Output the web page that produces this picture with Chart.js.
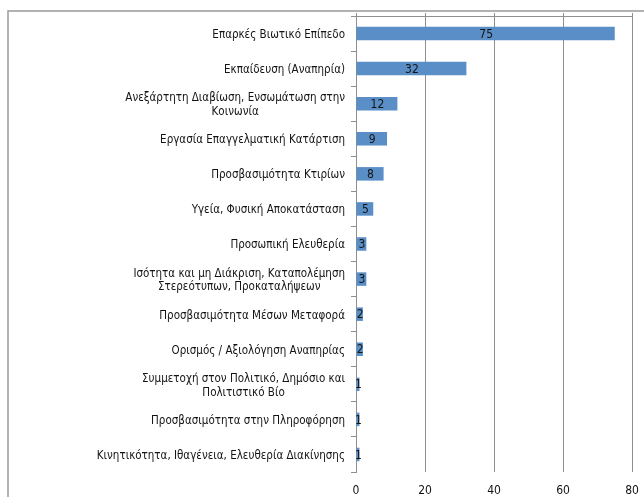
<!DOCTYPE html>
<html lang="el">
<head>
<meta charset="utf-8">
<title>Chart</title>
<script src="https://cdn.jsdelivr.net/npm/chart.js@4.4.1/dist/chart.umd.min.js"></script>
<style>
  html, body { margin: 0; padding: 0; background: #ffffff; }
  #wrap { width: 644px; height: 497px; position: relative; }
</style>
</head>
<body>
<div id="wrap"><canvas id="chart" width="644" height="497"></canvas></div>
<script>
const categories = [
  ["Επαρκές Βιωτικό Επίπεδο"],
  ["Εκπαίδευση (Αναπηρία)"],
  ["Ανεξάρτητη Διαβίωση, Ενσωμάτωση στην", "Κοινωνία"],
  ["Εργασία Επαγγελματική Κατάρτιση"],
  ["Προσβασιμότητα Κτιρίων"],
  ["Υγεία, Φυσική Αποκατάσταση"],
  ["Προσωπική Ελευθερία"],
  ["Ισότητα και μη Διάκριση, Καταπολέμηση", "Στερεότυπων, Προκαταλήψεων"],
  ["Προσβασιμότητα Μέσων Μεταφορά"],
  ["Ορισμός / Αξιολόγηση Αναπηρίας"],
  ["Συμμετοχή στον Πολιτικό, Δημόσιο και", "Πολιτιστικό Βίο"],
  ["Προσβασιμότητα στην Πληροφόρηση"],
  ["Κινητικότητα, Ιθαγένεια, Ελευθερία Διακίνησης"]
];
const counts = [75, 32, 12, 9, 8, 5, 3, 3, 2, 2, 1, 1, 1];
const xTicks = [0, 20, 40, 60, 80];

const FONT = "DejaVu Sans Condensed, DejaVu Sans, sans-serif";
const GRID = "#8f8f8f";
const TEXT = "#141414";

const chartDecor = {
  id: "chartDecor",
  beforeDraw(chart) {
    const ctx = chart.ctx;
    ctx.save();
    ctx.strokeStyle = "#a0a0a0";
    ctx.lineWidth = 1.6;
    ctx.strokeRect(8, 11, 1000, 1000);
    ctx.restore();
  },
  afterDraw(chart) {
    const ctx = chart.ctx;
    const area = chart.chartArea;
    const yScale = chart.scales.y;
    ctx.save();

    // value axis line along the top of the plot
    ctx.strokeStyle = GRID;
    ctx.lineWidth = 1;
    ctx.beginPath();
    ctx.moveTo(area.left, area.top + 0.5);
    ctx.lineTo(area.right, area.top + 0.5);
    ctx.stroke();

    ctx.font = "11.5px " + FONT;
    ctx.fillStyle = TEXT;
    ctx.textBaseline = "middle";
    ctx.textAlign = "center";

    // category labels: right aligned block, wrapped lines centred
    categories.forEach((lines, i) => {
      const yc = yScale.getPixelForTick(i) + 1.5;
      const maxW = Math.max(...lines.map((l) => ctx.measureText(l).width));
      const cx = yScale.right - 11 - maxW / 2;
      lines.forEach((l, j) => {
        ctx.fillText(l, cx, yc + (j - (lines.length - 1) / 2) * 13.5);
      });
    });

    // value labels centred in the bars
    ctx.font = "12px " + FONT;
    const meta = chart.getDatasetMeta(0);
    meta.data.forEach((bar, i) => {
      ctx.fillText(String(counts[i]), (bar.x + bar.base) / 2 + 0.5, bar.y + 1);
    });
    ctx.restore();
  }
};

new Chart(document.getElementById("chart"), {
  type: "bar",
  data: {
    labels: categories,
    datasets: [
      {
        data: counts,
        backgroundColor: "#5a8ec6",
        borderWidth: 0,
        categoryPercentage: 1,
        barPercentage: 0.385,
        xAxisID: "x",
        yAxisID: "y"
      }
    ]
  },
  options: {
    indexAxis: "y",
    responsive: false,
    animation: false,
    layout: { padding: { top: 13, right: 12, left: 0, bottom: 0 } },
    plugins: {
      legend: { display: false },
      tooltip: { enabled: false }
    },
    scales: {
      x: {
        type: "linear",
        position: "bottom",
        min: xTicks[0],
        max: xTicks[xTicks.length - 1],
        afterBuildTicks: (scale) => { scale.ticks = xTicks.map((v) => ({ value: v })); },
        ticks: { font: { family: FONT, size: 12 }, color: TEXT, padding: 12 },
        grid: { color: GRID, drawTicks: false },
        border: { display: false },
        afterFit: (scale) => { scale.height = 25; scale.paddingRight = 0; scale.paddingLeft = 0; }
      },
      x2: {
        type: "linear",
        position: "top",
        min: xTicks[0],
        max: xTicks[xTicks.length - 1],
        afterBuildTicks: (scale) => { scale.ticks = xTicks.map((v) => ({ value: v })); },
        ticks: { display: false },
        grid: { color: GRID, drawOnChartArea: false, drawTicks: true, tickLength: 3 },
        border: { display: false },
        afterFit: (scale) => { scale.paddingRight = 0; scale.paddingLeft = 0; }
      },
      y: {
        type: "category",
        ticks: { display: false },
        grid: { offset: true, color: GRID, drawOnChartArea: false, drawTicks: true, tickLength: 5 },
        border: { display: true, color: GRID },
        afterFit: (scale) => { scale.width = 356; }
      }
    }
  },
  plugins: [chartDecor]
});
</script>
</body>
</html>
